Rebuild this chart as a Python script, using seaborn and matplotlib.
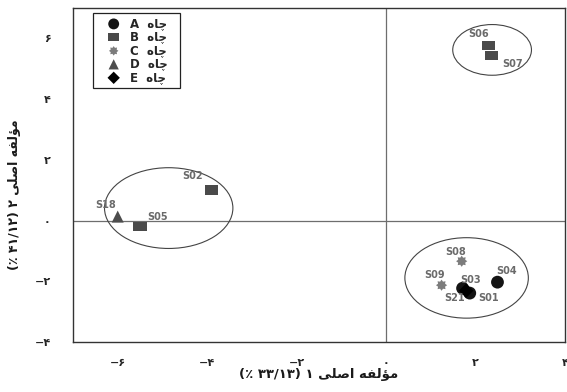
import numpy as np
import pandas as pd
import matplotlib
matplotlib.use("Agg")
import matplotlib.pyplot as plt
from matplotlib.patches import Ellipse
from matplotlib.ticker import FixedLocator, MultipleLocator, FixedFormatter
import seaborn as sns

# ---- data -------------------------------------------------------------
samples = ["S21", "S18", "S05", "S02", "S06", "S07", "S08", "S09", "S03", "S01", "S04"]
wells = ["E", "D", "B", "B", "B", "B", "C", "C", "A", "A", "A"]
pc1 = [1.79, -6.00, -5.50, -3.90, 2.29, 2.36, 1.69, 1.24, 1.71, 1.87, 2.49]
pc2 = [-2.31, 0.13, -0.20, 1.00, 5.77, 5.44, -1.34, -2.13, -2.23, -2.39, -2.03]

well_order = ["A", "B", "C", "D", "E"]

x_ticks = [-6, -4, -2, 0, 2, 4]
x_tick_labels = ["\u2212\u06F6", "\u2212\u06F4", "\u2212\u06F2", "\u06F0", "\u06F2", "\u06F4"]
y_ticks = [-4, -2, 0, 2, 4, 6]
y_tick_labels = ["\u2212\u06F4", "\u2212\u06F2", "\u06F0", "\u06F2", "\u06F4", "\u06F6"]

# Persian text written in visual (left-to-right) order with joined letter forms
words_component = "\uFEF0\uFEE0\uFEBB\uFE8D \uFEEA\uFED4\uFEDF\uFE86\uFEE3"   # مؤلفه اصلی
word_well = "\uFEE9\uFE8E\uFB7C"                                               # چاه
x_label = "(\u066A \u06F3\u06F3/\u06F1\u06F3) \u06F1 " + words_component
y_label = "(\u066A \u06F4\u06F1/\u06F1\u06F2) \u06F2 " + words_component

# cluster outlines: (center x, center y, width, height)
clusters = [(-4.86, 0.41, 2.87, 2.66), (2.37, 5.62, 1.76, 1.67), (1.80, -1.89, 2.76, 2.65)]

df = pd.DataFrame({"sample": samples, "well": wells, "pc1": pc1, "pc2": pc2})

# ---- style ------------------------------------------------------------
sns.set_style("white")
plt.rcParams["font.family"] = ["DejaVu Sans"]
plt.rcParams["axes.unicode_minus"] = True

rect = [(-1, -0.7), (1, -0.7), (1, 0.7), (-1, 0.7), (-1, -0.7)]
# compact eight-pointed star
ang = np.linspace(0, 2 * np.pi, 17)[:-1] + np.pi / 2
rad = np.where(np.arange(16) % 2 == 0, 1.0, 0.68)
star = list(zip(rad * np.cos(ang), rad * np.sin(ang)))
star.append(star[0])

markers = {"A": "o", "B": rect, "C": star, "D": "^", "E": "D"}
palette = {"A": "#141414", "B": "#4a4a4a", "C": "#7c7c7c", "D": "#4d4d4d", "E": "#000000"}
sizes = {"A": 85, "B": 95, "C": 65, "D": 75, "E": 55}

fig = plt.figure(figsize=(5.67, 3.92), dpi=100)
ax = fig.add_axes([0.1287, 0.1276, 0.8678, 0.852])

ax.axhline(0, color="#6e6e6e", lw=0.9, zorder=1)
ax.axvline(0, color="#6e6e6e", lw=0.9, zorder=1)

for cx, cy, w, h in clusters:
    ax.add_patch(Ellipse((cx, cy), w, h, fill=False, edgecolor="#444444", lw=0.8, zorder=2))

for w in well_order:
    sub = df[df["well"] == w]
    if len(sub) == 0:
        continue
    sns.scatterplot(data=sub, x="pc1", y="pc2", marker=markers[w], color=palette[w],
                    s=sizes[w], edgecolor="none", linewidth=0, ax=ax, zorder=3,
                    label=f"{w}  {word_well}  ")

# sample labels
offsets = {"S18": (-12, 12), "S05": (17, 10), "S02": (-19, 14), "S06": (-10, 11),
           "S07": (21, -9), "S08": (-6, 9), "S09": (-7, 10), "S03": (8, 8),
           "S04": (9, 11), "S21": (-12, -7), "S01": (19, -5)}
for s, x, y in zip(samples, pc1, pc2):
    ax.annotate(s, (x, y), xytext=offsets[s], textcoords="offset pixels",
                ha="center", va="center", fontsize=7, fontweight="bold",
                color="#6a6a6a", zorder=4)

ax.set_xlim(-7, 4)
ax.set_ylim(-4, 7)
ax.xaxis.set_major_locator(FixedLocator(x_ticks))
ax.xaxis.set_major_formatter(FixedFormatter(x_tick_labels))
ax.yaxis.set_major_locator(FixedLocator(y_ticks))
ax.yaxis.set_major_formatter(FixedFormatter(y_tick_labels))
ax.xaxis.set_minor_locator(MultipleLocator(1))
ax.yaxis.set_minor_locator(MultipleLocator(1))

ax.tick_params(axis="x", which="major", direction="out", length=9.5, width=1,
               color="#333333", labelsize=8, pad=2)
ax.tick_params(axis="y", which="major", direction="out", length=13, width=1,
               color="#333333", labelsize=8, pad=3)
ax.tick_params(which="minor", direction="out", length=6, width=1, color="#333333")
for lab in ax.get_xticklabels() + ax.get_yticklabels():
    lab.set_fontweight("bold")

for sp in ax.spines.values():
    sp.set_visible(True)
    sp.set_color("#333333")
    sp.set_linewidth(1.0)

ax.set_xlabel(x_label, fontsize=9.5, fontweight="bold", color="#1a1a1a", labelpad=0)
ax.set_ylabel(y_label, fontsize=9, fontweight="bold", color="#1a1a1a")
ax.yaxis.set_label_coords(-0.105, 0.44)

leg = ax.legend(loc="upper left", bbox_to_anchor=(0.041, 0.985), borderaxespad=0,
                frameon=True, fancybox=False, edgecolor="#222222", framealpha=1,
                fontsize=8.5, handletextpad=0.0, labelspacing=0.04, borderpad=0.34,
                handlelength=2.8, markerscale=0.85)
leg.get_frame().set_linewidth(0.9)
for t in leg.get_texts():
    t.set_fontweight("bold")

fig.savefig("out.png", dpi=100)
